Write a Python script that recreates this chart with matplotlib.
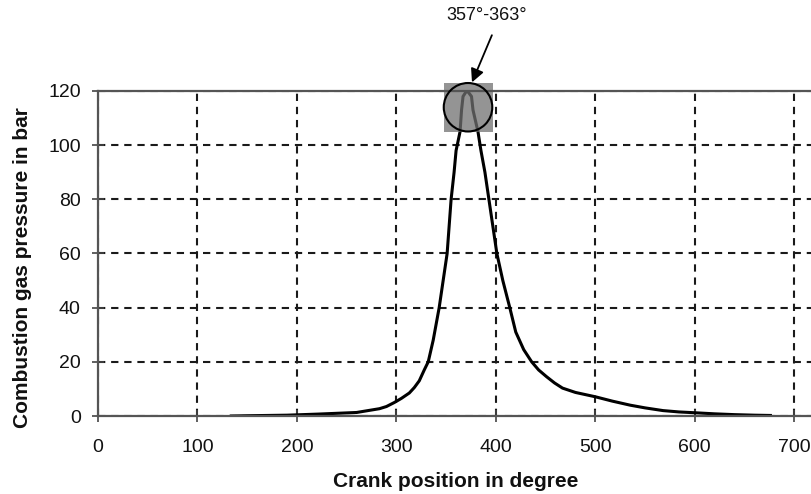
import matplotlib
matplotlib.use('Agg')
import matplotlib.pyplot as plt
from matplotlib.patches import Rectangle, Ellipse

plt.rcParams['font.family'] = ['Liberation Sans', 'DejaVu Sans']

# Pressure curve (crank angle in degree, pressure in bar)
crank = [134, 150, 190, 221, 260, 283, 290, 298, 305, 313, 318, 323, 328,
         332, 337, 343, 347, 351, 353, 355, 358, 360, 364, 365.5, 367, 370,
         372, 375.5, 377, 382, 385, 389, 393, 397, 401, 407, 414, 420, 428,
         436, 443, 451, 459, 467, 480, 500, 517, 535, 550, 568, 584, 600, 620,
         640, 660, 676]
pressure = [0.0, 0.1, 0.3, 0.7, 1.3, 2.7, 3.5, 5.0, 6.5, 8.5, 10.5, 13, 17,
            20, 28, 40, 50, 60, 70, 80, 90, 98, 105, 113, 118, 119.7,
            119.7, 118, 113, 105, 98, 90, 80, 70, 60, 50, 40, 31, 24.5,
            20, 17, 14.5, 12.2, 10.3, 8.7, 7.1, 5.5, 4.0, 3.0, 2.0, 1.5, 1.2, 0.8,
            0.5, 0.3, 0.2]

x_ticks = [0, 100, 200, 300, 400, 500, 600, 700]
y_ticks = [0, 20, 40, 60, 80, 100, 120]
peak_label = '357°-363°'
x_label = 'Crank position in degree'
y_label = 'Combustion gas pressure in bar'

fig = plt.figure(figsize=(8.12, 4.94), dpi=100)
ax = fig.add_axes([98 / 812, 78 / 494, 746 / 812, 325 / 494])

ax.plot(crank, pressure, color='black', lw=2.2, zorder=2)

# Grid
ax.set_xlim(0, 750)
ax.set_ylim(0, 120)
ax.set_xticks(x_ticks)
ax.set_yticks(y_ticks)
ax.grid(True, color='#1a1a1a', lw=1.5, linestyle=(0, (3.5, 2.8)))
ax.set_axisbelow(True)

for side in ['left', 'bottom', 'top']:
    ax.spines[side].set_color('#555555')
    ax.spines[side].set_linewidth(1.6)
    ax.spines[side].set_zorder(4)
ax.spines['right'].set_visible(False)

ax.tick_params(axis='both', direction='inout', length=9, width=1.2,
               color='#444444', labelsize=14, labelcolor='#111111')
ax.tick_params(axis='y', pad=8)
ax.tick_params(axis='x', pad=12)

# Highlight around the peak
rect = Rectangle((347.6, 104.7), 49.6, 18.1, facecolor='#707070', alpha=0.75,
                 edgecolor='none', zorder=3, clip_on=False)
ax.add_patch(rect)
circ = Ellipse((372, 114), 48.8, 17.9, facecolor='none', edgecolor='black',
               lw=1.5, zorder=5, clip_on=False)
ax.add_patch(circ)

ax.annotate('', xy=(376, 123.2), xytext=(396, 140.6),
            arrowprops=dict(arrowstyle='-|>', color='black', lw=1.3,
                            mutation_scale=20, shrinkA=0, shrinkB=0),
            annotation_clip=False, zorder=6)
ax.text(391, 148, peak_label, ha='center', va='center', fontsize=13,
        color='#111111')

fig.text(456 / 812, 1 - 481 / 494, x_label, ha='center', va='center',
         fontsize=15, fontweight='bold', color='#111111')
fig.text(23 / 812, 1 - 268 / 494, y_label, ha='center', va='center',
         rotation=90, fontsize=15, fontweight='bold', color='#111111')

fig.savefig('out.png', dpi=100)
